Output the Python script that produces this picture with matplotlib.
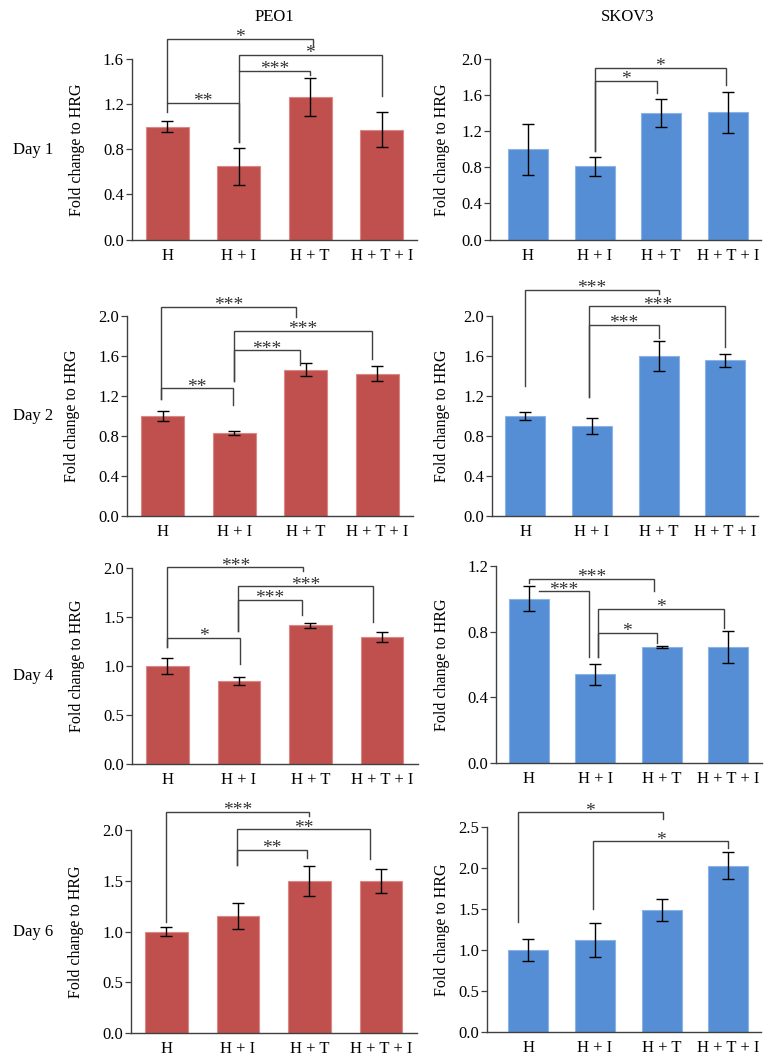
import matplotlib
matplotlib.use("Agg")
import matplotlib.pyplot as plt
import numpy as np

plt.rcParams['font.family'] = ['Liberation Serif', 'DejaVu Serif']

# grupos de tratamiento
grupos = ["H", "H + I", "H + T", "H + T + I"]
dias = ["Day 1", "Day 2", "Day 4", "Day 6"]
lineas = ["PEO1", "SKOV3"]

# PEO1: media y error por dia
peo1_d1 = [1.00, 0.65, 1.265, 0.975]
peo1_d1_err = [0.05, 0.163, 0.168, 0.155]
peo1_d2 = [1.00, 0.833, 1.463, 1.423]
peo1_d2_err = [0.053, 0.022, 0.065, 0.073]
peo1_d4 = [1.00, 0.844, 1.414, 1.298]
peo1_d4_err = [0.078, 0.04, 0.027, 0.049]
peo1_d6 = [1.00, 1.154, 1.498, 1.50]
peo1_d6_err = [0.043, 0.131, 0.15, 0.118]

# SKOV3: media y error por dia
skov3_d1 = [1.00, 0.81, 1.40, 1.41]
skov3_d1_err = [0.28, 0.107, 0.157, 0.226]
skov3_d2 = [1.00, 0.90, 1.60, 1.56]
skov3_d2_err = [0.037, 0.083, 0.148, 0.065]
skov3_d4 = [1.00, 0.54, 0.705, 0.706]
skov3_d4_err = [0.077, 0.065, 0.006, 0.096]
skov3_d6 = [1.00, 1.122, 1.492, 2.03]
skov3_d6_err = [0.138, 0.213, 0.136, 0.16]

# limites del eje y (maximo, paso)
peo1_ejes = [(1.6, 0.4), (2.0, 0.4), (2.0, 0.5), (2.0, 0.5)]
skov3_ejes = [(2.0, 0.4), (2.0, 0.4), (1.2, 0.4), (2.5, 0.5)]

# corchetes de significancia: (x1, x2, altura, fin pata izq, fin pata der, etiqueta)
peo1_sig = [
    [(0, 1, 1.212, 1.126, 0.868, "**"),
     (1, 2.0, 1.496, 1.496, 1.46, "***"),
     (0, 2.04, 1.778, 1.212, 1.713, "*"),
     (1, 3, 1.639, 0.868, 1.268, "*")],
    [(-0.03, 0.98, 1.277, 1.173, 1.107, "**"),
     (1.0, 1.92, 1.657, 1.347, 1.513, "***"),
     (1.0, 2.92, 1.853, 1.347, 1.573, "***"),
     (-0.03, 1.86, 2.09, 1.173, 1.99, "***")],
    [(0, 1.02, 1.288, 1.197, 1.017, "*"),
     (0.98, 1.88, 1.678, 1.359, 1.519, "***"),
     (0.98, 2.88, 1.814, 1.359, 1.451, "***"),
     (0, 1.9, 2.007, 1.197, 1.969, "***")],
    [(0, 2.0, 2.18, 1.089, 2.141, "***"),
     (0.98, 2.85, 2.007, 1.656, 1.715, "**"),
     (0.98, 1.97, 1.807, 1.656, 1.725, "**")],
]
skov3_sig = [
    [(1.0, 1.93, 1.759, 0.985, 1.622, "*"),
     (1.0, 2.97, 1.90, 0.985, 1.715, "*")],
    [(0.0, 2.0, 2.263, 1.30, 2.217, "***"),
     (0.96, 3.0, 2.097, 1.19, 1.69, "***"),
     (0.96, 2.0, 1.913, 1.19, 1.78, "***")],
    [(0.0, 1.88, 1.121, 1.098, 1.047, "***"),
     (0.15, 0.9, 1.047, 1.047, 0.643, "***"),
     (1.04, 2.93, 0.938, 0.643, 0.82, "*"),
     (1.04, 1.92, 0.793, 0.643, 0.732, "*")],
    [(-0.16, 2.02, 2.679, 1.337, 2.598, "*"),
     (0.97, 3.0, 2.325, 1.50, 2.244, "*")],
]

peo1 = [(peo1_d1, peo1_d1_err), (peo1_d2, peo1_d2_err), (peo1_d4, peo1_d4_err), (peo1_d6, peo1_d6_err)]
skov3 = [(skov3_d1, skov3_d1_err), (skov3_d2, skov3_d2_err), (skov3_d4, skov3_d4_err), (skov3_d6, skov3_d6_err)]

W, H = 772, 1062
fig = plt.figure(figsize=(W / 100, H / 100), dpi=100)

# posicion de cada panel en pixeles: eje y, cero, tope, x izquierda
pos_peo1 = [(131.5, 239.5, 59, -0.5), (127, 516, 316, -0.5), (131.7, 764, 568, -0.5), (130.7, 1033, 830, -0.5)]
pos_skov3 = [(490, 239.5, 59, -0.57), (491.7, 516, 316, -0.506), (496, 763, 566, -0.49), (486.7, 1032, 827, -0.625)]
paso = [71.5, 66.6]
colores = ["#C0504D", "#558ED5"]
bordes = ["#D98886", "#8DB3E6"]
dia_y = [150, 416.5, 676.5, 931.5]

gris = "#404040"
x = np.arange(len(grupos))

for c, (datos, ejes, sigs, posiciones) in enumerate([(peo1, peo1_ejes, peo1_sig, pos_peo1),
                                                     (skov3, skov3_ejes, skov3_sig, pos_skov3)]):
    for r in range(4):
        izq, cero, tope, xl = posiciones[r]
        ancho_px = (3.5 - xl) * paso[c]
        ax = fig.add_axes([izq / W, 1 - cero / H, ancho_px / W, (cero - tope) / H])
        vals, errs = datos[r]
        ymax, step = ejes[r]
        ax.bar(x, vals, width=0.6, color=colores[c], edgecolor=bordes[c], linewidth=0.8, zorder=2)
        ax.errorbar(x, vals, yerr=errs, fmt='none', ecolor='black', elinewidth=1,
                    capsize=4.5, capthick=1, zorder=3)
        ax.set_xlim(xl, 3.5)
        ax.set_ylim(0, ymax)
        ticks = np.arange(0, ymax + 1e-6, step)
        ax.set_yticks(ticks)
        ax.set_yticklabels(["%.1f" % v for v in ticks])
        ax.set_xticks(x)
        ax.set_xticklabels(grupos)
        for s in ["top", "right"]:
            ax.spines[s].set_visible(False)
        for s in ["left", "bottom"]:
            ax.spines[s].set_color(gris)
            ax.spines[s].set_linewidth(1.0)
        ax.tick_params(axis='x', length=0, pad=6, labelsize=12)
        ax.tick_params(axis='y', length=4, width=0.9, color=gris, pad=1.5, labelsize=12, direction='out')
        ax.set_ylabel("Fold change to HRG", fontsize=11.5)
        lab_centro = izq - 54 if c == 0 else 443
        ax.yaxis.set_label_coords((lab_centro + 7 - izq) / ancho_px, 0.5)
        ax.patch.set_alpha(0)

        # corchetes
        for (x1, x2, yb, e1, e2, lab) in sigs[r]:
            ax.plot([x1, x1, x2, x2], [e1, yb, yb, e2], color=gris, lw=1.0,
                    clip_on=False, zorder=4, solid_joinstyle='miter')
            ax.annotate(lab, xy=((x1 + x2) / 2, yb), xytext=(0, -2.5), textcoords='offset points',
                        ha='center', va='baseline', fontsize=14, color='#333333',
                        annotation_clip=False)

        if c == 0:
            fig.text(13 / W, 1 - dia_y[r] / H, dias[r], ha='left', va='center', fontsize=12)

fig.text(274 / W, 1 - 17 / H, lineas[0], ha='center', va='center', fontsize=12)
fig.text(627.5 / W, 1 - 17 / H, lineas[1], ha='center', va='center', fontsize=12)

fig.savefig("out.png", dpi=100)
